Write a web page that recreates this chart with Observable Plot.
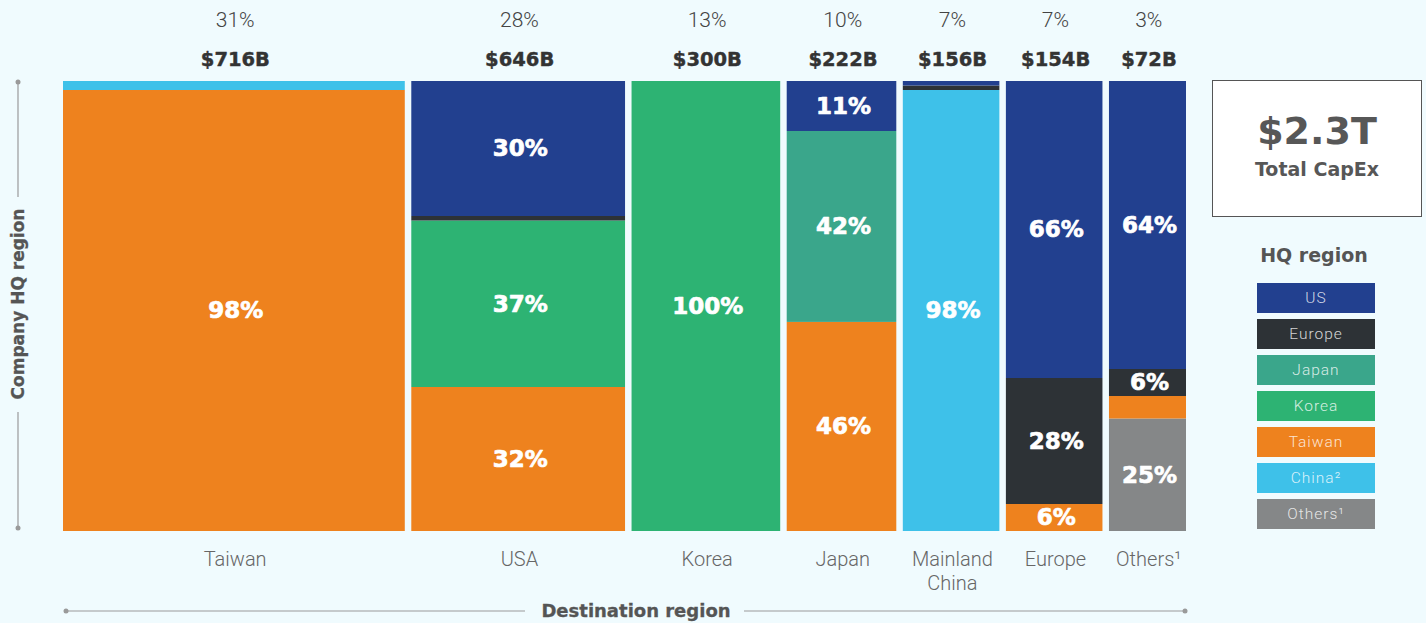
<!DOCTYPE html>
<html><head><meta charset="utf-8">
<script src="https://cdn.jsdelivr.net/npm/d3@7"></script>
<script src="https://cdn.jsdelivr.net/npm/@observablehq/plot@0.6"></script>
<style>
body{margin:0;background:#f0fbfe;}
#wrap{position:relative;width:1426px;height:623px;overflow:hidden;background:#f0fbfe;}
#wrap svg{position:absolute;left:0;top:0;}
g[aria-label="seg-labels"] text{letter-spacing:3px;}
g[aria-label="capex"] text{letter-spacing:2px;}
g[aria-label="share"] text{letter-spacing:1.5px;}
g[aria-label="dest"] text{letter-spacing:1.6px;}
#total{position:absolute;left:1212px;top:80px;width:210px;height:137px;background:#fff;border:1.5px solid #555;box-sizing:border-box;text-align:center;color:#575757;font-family:"DejaVu Sans",sans-serif;font-weight:bold;}
#total .big{font-size:38px;margin-top:30px;line-height:40px;}
#total .small{font-size:19px;margin-top:7px;line-height:22px;}
#legTitle{position:absolute;left:1214px;top:244px;width:200px;text-align:center;font-family:"DejaVu Sans",sans-serif;font-weight:bold;font-size:19px;color:#555;}
.leg{position:absolute;left:1257px;width:118px;height:30px;line-height:31px;text-align:center;font-family:Roboto,sans-serif;font-weight:300;font-size:15.5px;letter-spacing:1px;color:rgba(255,255,255,0.8);}
</style></head><body><div id="wrap"></div>
<script>
// Destination regions (columns)
const destinations = ["Taiwan", "USA", "Korea", "Japan", "Mainland\nChina", "Europe", "Others¹"];
const destShare = [31, 28, 13, 10, 7, 7, 3];            // % of total CapEx
const destCapex = [716, 646, 300, 222, 156, 154, 72];   // $B
const columnWidth = [31.5, 19.7, 13.7, 10.1, 8.9, 8.9, 7.1]; // drawn column widths (% of chart width)

// HQ regions in stacking order, top -> bottom
const hqRegions = ["US", "Europe", "Japan", "Korea", "China", "Taiwan", "Others"];
const hqColors  = ["#22408f", "#2d3236", "#3aa68b", "#2db373", "#3ec1e9", "#ee821e", "#858788"];

// HQ mix (%) per destination, in hqRegions order
const mixTaiwan = [0, 0, 0, 0, 2, 98, 0];
const mixUSA    = [30, 1, 0, 37, 0, 32, 0];
const mixKorea  = [0, 0, 0, 100, 0, 0, 0];
const mixJapan  = [11, 0, 42, 0, 0, 46, 0];
const mixChina  = [1, 1, 0, 0, 98, 0, 0];
const mixEurope = [66, 28, 0, 0, 0, 6, 0];
const mixOthers = [64, 6, 0, 0, 0, 5, 25];
const mixes = [mixTaiwan, mixUSA, mixKorea, mixJapan, mixChina, mixEurope, mixOthers];

// Legend
const legendLabels = ["US", "Europe", "Japan", "Korea", "Taiwan", "China²", "Others¹"];
const legendKeys   = ["US", "Europe", "Japan", "Korea", "Taiwan", "China", "Others"];
const totalLabel = "$2.3T";

// ---- build tables
const GAP = 0.6;
let cursor = 0;
const columns = destinations.map((name, i) => {
  const c = {name, share: destShare[i], capex: destCapex[i], x1: cursor, x2: cursor + columnWidth[i]};
  cursor = c.x2 + GAP;
  return c;
});
const xMax = cursor - GAP;

const segments = [];
columns.forEach((c, i) => {
  const mix = mixes[i];
  const sum = d3.sum(mix);
  let acc = 0;
  for (let k = hqRegions.length - 1; k >= 0; k--) {
    const v = mix[k];
    if (!v) continue;
    segments.push({dest: c.name, hq: hqRegions[k], value: v, x1: c.x1, x2: c.x2, y1: acc / sum, y2: (acc + v) / sum});
    acc += v;
  }
});

const mid = (a, b) => (a + b) / 2;
const plot = Plot.plot({
  width: 1426,
  height: 623,
  marginLeft: 63,
  marginRight: 240,
  marginTop: 81,
  marginBottom: 92,
  style: {background: "transparent", overflow: "visible"},
  x: {domain: [0, xMax], axis: null},
  y: {domain: [0, 1], axis: null},
  color: {domain: hqRegions, range: hqColors},
  marks: [
    Plot.rect(segments, {x1: "x1", x2: "x2", y1: "y1", y2: "y2", fill: "hq"}),
    Plot.text(segments.filter(d => d.value >= 6), {
      ariaLabel: "seg-labels",
      x: d => mid(d.x1, d.x2), y: d => mid(d.y1, d.y2), dx: 1.5, text: d => d.value + "%",
      fill: "white", stroke: "white", strokeWidth: 0.7, fontSize: 23, fontWeight: "bold", fontFamily: "DejaVu Sans"
    }),
    Plot.text(columns, {
      ariaLabel: "capex",
      x: d => mid(d.x1, d.x2), y: () => 1, dy: -22, dx: 1, text: d => "$" + d.capex + "B",
      fill: "#333", stroke: "#333", strokeWidth: 0.4, fontSize: 19.5, fontWeight: "bold", fontFamily: "DejaVu Sans"
    }),
    Plot.text(columns, {
      ariaLabel: "share",
      x: d => mid(d.x1, d.x2), y: () => 1, dy: -61, dx: 0.75, text: d => d.share + "%",
      fill: "#444", fontSize: 21, fontFamily: "Roboto", fontWeight: 300
    }),
    Plot.text(columns, {
      ariaLabel: "dest",
      x: d => mid(d.x1, d.x2), y: () => 0, dy: 17, dx: 0.8, lineAnchor: "top", lineHeight: 1.2,
      text: "name", fill: "#666", fontSize: 20, fontFamily: "Roboto", fontWeight: 300
    })
  ]
});
document.getElementById("wrap").appendChild(plot);

// axis titles with guide lines
const svg = d3.select(plot);
const g = svg.append("g");
const lineC = "#9a9a9a";
// left vertical
g.append("line").attr("x1", 18).attr("x2", 18).attr("y1", 82).attr("y2", 197).attr("stroke", lineC).attr("stroke-width", 1.2);
g.append("line").attr("x1", 18).attr("x2", 18).attr("y1", 412).attr("y2", 528).attr("stroke", lineC).attr("stroke-width", 1.2);
g.append("circle").attr("cx", 18).attr("cy", 82).attr("r", 2.5).attr("fill", lineC);
g.append("circle").attr("cx", 18).attr("cy", 528).attr("r", 2.5).attr("fill", lineC);
g.append("text").attr("transform", "translate(24,304) rotate(-90)").attr("text-anchor", "middle")
  .attr("font-family", "DejaVu Sans").attr("font-weight", "bold").attr("font-size", 17).attr("fill", "#555")
  .attr("stroke", "#555").attr("stroke-width", 0.3)
  .text("Company HQ region");
// bottom horizontal
g.append("line").attr("x1", 66).attr("x2", 525).attr("y1", 611).attr("y2", 611).attr("stroke", lineC).attr("stroke-width", 1.2);
g.append("line").attr("x1", 744).attr("x2", 1185).attr("y1", 611).attr("y2", 611).attr("stroke", lineC).attr("stroke-width", 1.2);
g.append("circle").attr("cx", 66).attr("cy", 611).attr("r", 2.5).attr("fill", lineC);
g.append("circle").attr("cx", 1185).attr("cy", 611).attr("r", 2.5).attr("fill", lineC);
g.append("text").attr("x", 636).attr("y", 617).attr("text-anchor", "middle")
  .attr("font-family", "DejaVu Sans").attr("font-weight", "bold").attr("font-size", 18).attr("fill", "#555")
  .attr("stroke", "#555").attr("stroke-width", 0.3)
  .text("Destination region");

// right panel: total + legend
const wrap = document.getElementById("wrap");
const tot = document.createElement("div");
tot.id = "total";
tot.innerHTML = `<div class="big">${totalLabel}</div><div class="small">Total CapEx</div>`;
wrap.appendChild(tot);
const lt = document.createElement("div");
lt.id = "legTitle"; lt.textContent = "HQ region";
wrap.appendChild(lt);
legendLabels.forEach((lab, i) => {
  const d = document.createElement("div");
  d.className = "leg";
  d.style.top = (283 + i * 36) + "px";
  d.style.background = hqColors[hqRegions.indexOf(legendKeys[i])];
  d.textContent = lab;
  wrap.appendChild(d);
});
</script>
</body></html>
